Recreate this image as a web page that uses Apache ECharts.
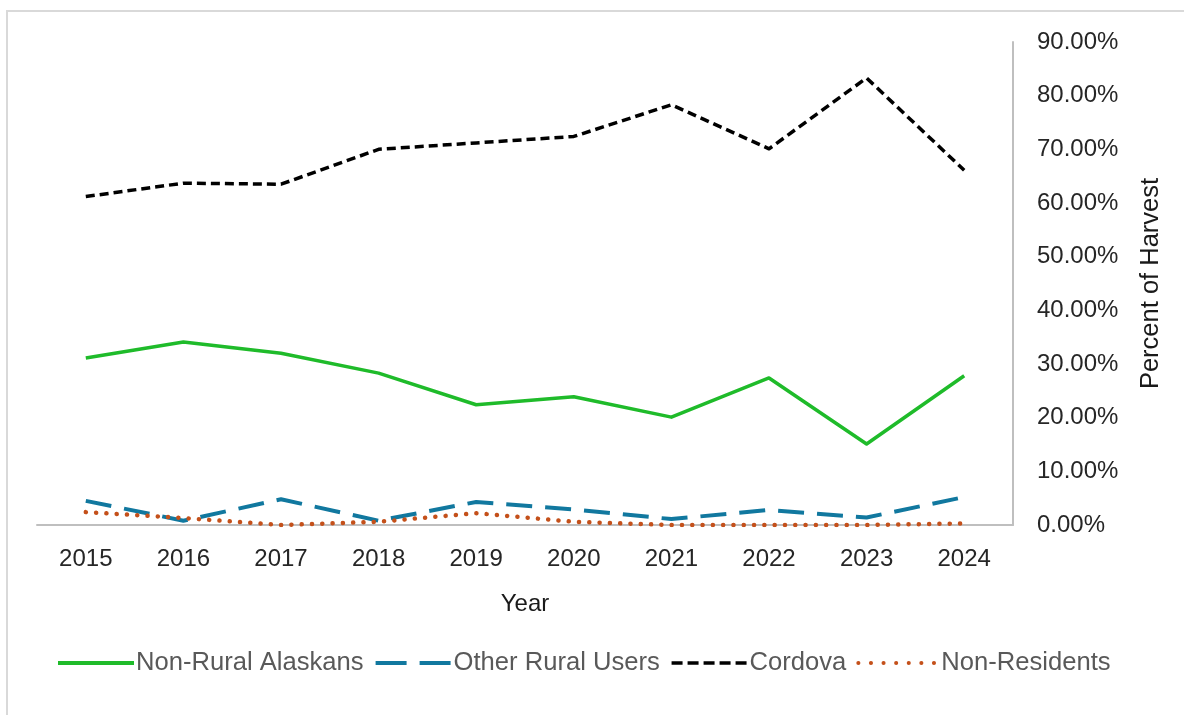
<!DOCTYPE html>
<html>
<head>
<meta charset="utf-8">
<script src="https://cdn.jsdelivr.net/npm/echarts@6/dist/echarts.min.js"></script>
<style>
html,body{margin:0;padding:0;background:#fff;}
#chart{width:1184px;height:715px;}
</style>
</head>
<body>
<div id="chart"></div>
<script>
const years = ['2015','2016','2017','2018','2019','2020','2021','2022','2023','2024'];
const nonRuralAlaskans = [31.1, 34.1, 32.0, 28.3, 22.4, 23.9, 20.1, 27.4, 15.1, 27.8];
const otherRuralUsers = [4.5, 0.8, 4.8, 0.8, 4.3, 2.9, 1.1, 2.8, 1.4, 5.2];
const cordova = [61.2, 63.7, 63.5, 70.0, 71.2, 72.4, 78.3, 70.1, 83.3, 66.1];
const nonResidents = [2.4, 1.3, 0.0, 0.6, 2.2, 0.6, 0.0, 0.0, 0.0, 0.3];
const yTicks = [0, 10, 20, 30, 40, 50, 60, 70, 80, 90];

const chart = echarts.init(document.getElementById('chart'), null, {renderer: 'canvas'});
const FONT = 'Liberation Sans';
const C_GREEN = '#1fbb2a', C_BLUE = '#11789f', C_BLACK = '#000000', C_ORANGE = '#c4501a';
function lineSeries(name, data, color, width, type, cap) {
  return {
    name: name, type: 'line', data: data, symbol: 'none', showSymbol: false,
    lineStyle: {color: color, width: width, type: type, cap: cap || 'butt', join: 'round'},
    itemStyle: {color: color}, z: 3
  };
}
function legendItem(name, color, width, type, cap, padLeft) {
  return {
    name: name,
    itemStyle: {opacity: 0},
    lineStyle: {color: color, width: width, type: type, cap: cap || 'butt', opacity: 1},
    textStyle: {fontFamily: FONT, fontSize: 25.6, color: '#595959', padding: [0, 0, 0, padLeft]}
  };
}
chart.setOption({
  animation: false,
  backgroundColor: '#fff',
  graphic: [{
    type: 'rect', shape: {x: 7, y: 11, width: 1190, height: 720},
    style: {fill: 'none', stroke: '#d9d9d9', lineWidth: 2}, silent: true
  }],
  grid: {left: 37, right: 171, top: 42, bottom: 190, containLabel: false},
  legend: {
    left: 51, top: 645, itemWidth: 76, itemHeight: 14, itemGap: 10,
    textStyle: {fontFamily: FONT, fontSize: 25.6, color: '#595959', padding: [0, 0, 0, -3]},
    data: [
      legendItem('Non-Rural Alaskans', C_GREEN, 4, 'solid', null, -3),
      legendItem('Other Rural Users', C_BLUE, 4, [31, 13], null, -3),
      legendItem('Cordova', C_BLACK, 3.5, [11, 5], null, -3),
      legendItem('Non-Residents', C_ORANGE, 4, [0.1, 12.5], 'round', 2)
    ]
  },
  xAxis: {
    type: 'category', data: years, boundaryGap: true,
    name: 'Year', nameLocation: 'middle', nameGap: 67,
    nameTextStyle: {fontFamily: FONT, fontSize: 24, color: '#1a1a1a'},
    axisLine: {lineStyle: {color: '#bfbfbf', width: 2}},
    axisTick: {show: false},
    axisLabel: {fontFamily: FONT, fontSize: 24, color: '#262626', margin: 22}
  },
  yAxis: {
    type: 'value', position: 'right', min: yTicks[0], max: yTicks[yTicks.length - 1], interval: 10,
    name: 'Percent of Harvest', nameLocation: 'middle', nameGap: 125,
    nameTextStyle: {fontFamily: FONT, fontSize: 25.5, color: '#1a1a1a'},
    axisLine: {show: true, lineStyle: {color: '#bfbfbf', width: 2}},
    axisTick: {show: false},
    splitLine: {show: false},
    axisLabel: {
      fontFamily: FONT, fontSize: 24, color: '#262626', margin: 24,
      formatter: function (v) { return v.toFixed(2) + '%'; }
    }
  },
  series: [
    lineSeries('Non-Rural Alaskans', nonRuralAlaskans, C_GREEN, 3.5, 'solid'),
    lineSeries('Other Rural Users', otherRuralUsers, C_BLUE, 4, [26, 13]),
    lineSeries('Cordova', cordova, C_BLACK, 3.5, [9, 5]),
    lineSeries('Non-Residents', nonResidents, C_ORANGE, 4.5, [0.1, 10.2], 'round')
  ]
});
</script>
</body>
</html>
